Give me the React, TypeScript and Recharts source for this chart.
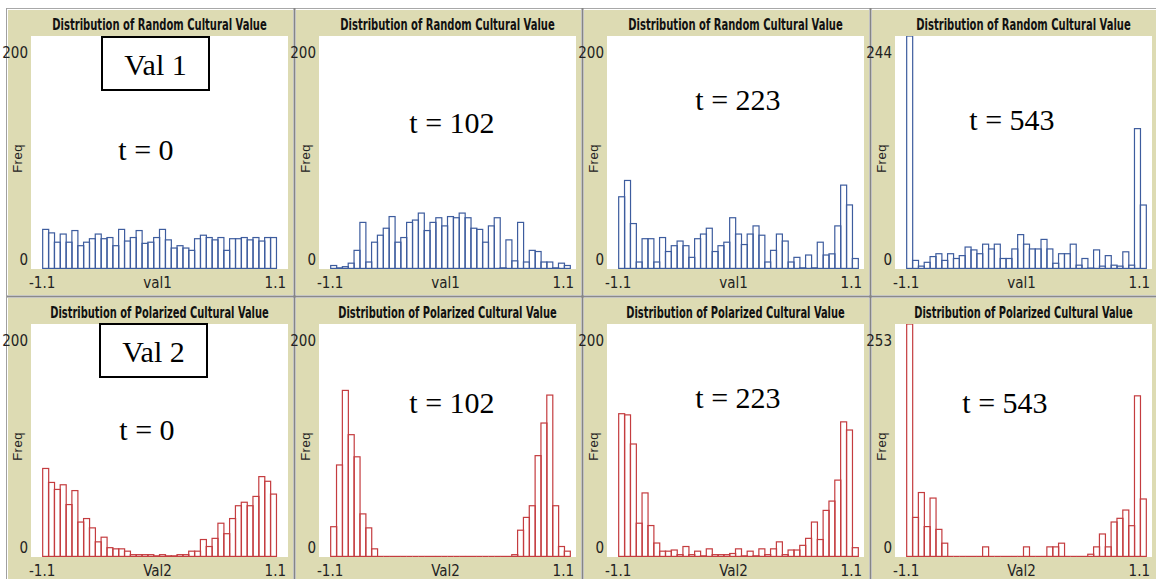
import { BarChart, Bar, XAxis, YAxis } from "recharts";

// bins of width 0.05 over the plot's x range -1.1 .. 1.1 (44 bins)
const BIN_STARTS = Array.from({ length: 44 }, (_, i) => Math.round((-1.1 + i * 0.05) * 100) / 100);
const FIRST_BIN = 2; // first count belongs to the bin starting at -1.0

// counts per bin, starting at -1.0
const val1T0 = [34, 31, 23, 30, 23, 33, 20, 23, 26, 30, 26, 27, 20, 34, 24, 27, 33, 22, 23, 27, 34, 25, 18, 20, 18, 16, 26, 29, 27, 25, 27, 16, 26, 26, 27, 25, 27, 24, 27, 27];
const val1T102 = [3, 1, 2, 5, 16, 40, 6, 23, 29, 35, 45, 23, 27, 40, 42, 48, 33, 40, 44, 37, 45, 44, 48, 44, 35, 34, 23, 37, 44, 1, 25, 7, 40, 6, 16, 15, 6, 6, 1, 5, 3];
const val1T223 = [62, 76, 39, 6, 26, 26, 6, 27, 15, 20, 24, 20, 10, 26, 30, 35, 15, 20, 23, 44, 30, 21, 30, 37, 29, 6, 16, 30, 24, 6, 10, 1, 12, 1, 23, 12, 13, 37, 72, 55, 9];
const val1T543 = [244, 9, 3, 7, 13, 16, 9, 16, 11, 14, 23, 20, 16, 26, 21, 26, 11, 11, 21, 36, 26, 21, 21, 31, 21, 6, 16, 16, 26, 4, 11, 1, 20, 3, 14, 4, 3, 18, 4, 147, 67];
const val2T0 = [76, 64, 58, 62, 45, 57, 30, 33, 25, 13, 17, 8, 7, 7, 5, 2, 2, 2, 2, 1, 2, 1, 1, 2, 2, 5, 5, 15, 9, 16, 29, 20, 33, 44, 47, 44, 52, 69, 65, 54];
const val2T102 = [26, 79, 143, 105, 86, 37, 25, 7, 0, 0, 0, 0, 0, 0, 0, 0, 0, 0, 0, 0, 0, 0, 0, 0, 0, 0, 0, 0, 0, 0, 0, 2, 23, 34, 44, 87, 115, 139, 44, 9, 5];
const val2T223 = [123, 122, 97, 29, 55, 27, 12, 5, 5, 6, 2, 9, 2, 5, 1, 7, 2, 2, 2, 3, 7, 1, 5, 1, 7, 2, 7, 13, 2, 6, 6, 10, 16, 30, 15, 40, 48, 66, 116, 109, 8];
const val2T543 = [253, 43, 70, 33, 64, 30, 15, 0, 0, 0, 0, 0, 0, 11, 0, 0, 0, 0, 0, 0, 11, 0, 0, 0, 11, 11, 15, 0, 0, 0, 0, 3, 11, 25, 11, 38, 42, 51, 34, 175, 63];

const TITLES = ["Distribution of Random Cultural Value", "Distribution of Polarized Cultural Value"];
const X_TITLES = ["val1", "Val2"];
const X_TICKS = ["-1.1", "1.1"];
const Y_MAX_TOP = [200, 200, 200, 244];
const Y_MAX_BOTTOM = [200, 200, 200, 253];
const TIMES = [0, 102, 223, 543];

const COL_LINES = [6, 294, 582, 870];
const ROW_LINES = [8, 296];
const PLOT_W = 257;
const PLOT_H = 233;
const BEIGE = "#dddbb3";
const BLUE = "#3d5c9e";
const RED = "#c43c3f";
const NARROW = "'Liberation Sans Narrow', 'DejaVu Sans Condensed', 'Arial Narrow', sans-serif";
const SERIF = "'Liberation Serif', 'Times New Roman', serif";
// horizontal squeeze so the bold titles keep tall glyphs at the original width
const TITLE_SCALE = [0.695, 0.687];

const HistBar = (props: any) => {
  const { x, y, width, height, payload, color } = props;
  if (!payload || payload.count == null) return <g />;
  const bottom = y + height - 0.6;
  if (!height) return <path d={`M${x},${bottom}H${x + width}`} stroke={color} strokeWidth={1.2} fill="none" />;
  return <rect x={x} y={y} width={width} height={bottom - y} fill="none" stroke={color} strokeWidth={1.2} />;
};

const Histogram = ({ col, row, series, yMax, color }: any) => {
  const data = BIN_STARTS.map((bin, i) => ({
    bin,
    count: i >= FIRST_BIN && i - FIRST_BIN < series.length ? series[i - FIRST_BIN] : null,
  }));
  return (
    <div style={{ position: "absolute", left: COL_LINES[col] + 25, top: ROW_LINES[row] + 28, width: PLOT_W, height: PLOT_H, background: "#fff" }}>
      <BarChart width={PLOT_W} height={PLOT_H} data={data} margin={{ top: 0, right: 0, bottom: 0, left: 0 }} barCategoryGap={0} barGap={0}>
        <XAxis dataKey="bin" hide />
        <YAxis hide domain={[0, yMax]} allowDataOverflow />
        <Bar dataKey="count" isAnimationActive={false} shape={(p: any) => <HistBar {...p} color={color} />} />
      </BarChart>
    </div>
  );
};

const panels = [
  { col: 0, row: 0, series: val1T0, yMax: Y_MAX_TOP[0], color: BLUE, t: TIMES[0], tx: 146, ty: 160 },
  { col: 1, row: 0, series: val1T102, yMax: Y_MAX_TOP[1], color: BLUE, t: TIMES[1], tx: 452, ty: 133 },
  { col: 2, row: 0, series: val1T223, yMax: Y_MAX_TOP[2], color: BLUE, t: TIMES[2], tx: 738, ty: 110 },
  { col: 3, row: 0, series: val1T543, yMax: Y_MAX_TOP[3], color: BLUE, t: TIMES[3], tx: 1012, ty: 130 },
  { col: 0, row: 1, series: val2T0, yMax: Y_MAX_BOTTOM[0], color: RED, t: TIMES[0], tx: 147, ty: 440 },
  { col: 1, row: 1, series: val2T102, yMax: Y_MAX_BOTTOM[1], color: RED, t: TIMES[1], tx: 452, ty: 413 },
  { col: 2, row: 1, series: val2T223, yMax: Y_MAX_BOTTOM[2], color: RED, t: TIMES[2], tx: 738, ty: 408 },
  { col: 3, row: 1, series: val2T543, yMax: Y_MAX_BOTTOM[3], color: RED, t: TIMES[3], tx: 1005, ty: 413 },
];

const boxes = [
  { label: "Val 1", x: 102, y: 37, w: 107, h: 53 },
  { label: "Val 2", x: 100, y: 324, w: 107, h: 53 },
];

export default function App() {
  return (
    <div style={{ position: "absolute", left: 0, top: 0, width: 1156, height: 579, background: "#fff", overflow: "hidden" }}>
      {panels.map((p, i) => {
        const left = COL_LINES[p.col] + 2;
        const right = (COL_LINES[p.col + 1] ?? 1158) - 1;
        const top = ROW_LINES[p.row] + 2;
        const bottom = (ROW_LINES[p.row + 1] ?? 581) - 1;
        return <div key={"bg" + i} style={{ position: "absolute", left, top, width: right - left, height: bottom - top, background: BEIGE }} />;
      })}
      {panels.map((p, i) => (
        <Histogram key={i} {...p} />
      ))}
      <svg width={1156} height={579} style={{ position: "absolute", left: 0, top: 0, pointerEvents: "none" }}>
        <line x1={6} y1={8.5} x2={1156} y2={8.5} stroke="#a8a8a8" strokeWidth={1} />
        <line x1={6} y1={296.5} x2={1156} y2={296.5} stroke="#8a8a8a" strokeWidth={2} />
        {COL_LINES.map((x, i) => (
          <line key={i} x1={x + 0.5} y1={8} x2={x + 0.5} y2={579} stroke={i === 0 ? "#a0a0a0" : "#858585"} strokeWidth={i === 0 ? 1 : 2} />
        ))}
        {panels.map((p, i) => {
          const pl = COL_LINES[p.col] + 25;
          const pt = ROW_LINES[p.row] + 28;
          const pb = pt + PLOT_H;
          const cx = pl + PLOT_W / 2;
          return (
            <g key={i}>
              <text transform={`translate(${cx},${pt - 6}) scale(${TITLE_SCALE[p.row]},1)`} textAnchor="middle" fontFamily={NARROW} fontWeight="bold" fontSize={16} fill="#111">
                {TITLES[p.row]}
              </text>
              <text x={pl - 3} y={pt + 22} textAnchor="end" fontFamily={NARROW} fontSize={15} fill="#222">{p.yMax}</text>
              <text x={pl - 3} y={pb - 4} textAnchor="end" fontFamily={NARROW} fontSize={15} fill="#222">0</text>
              <text transform={`translate(${pl - 9},${(pt + pb) / 2 + 6}) rotate(-90)`} textAnchor="middle" fontFamily="'Liberation Sans', Arial, sans-serif" fontSize={13} letterSpacing={0.5} fill="#222">Freq</text>
              <text x={pl - 2} y={pb + 19} textAnchor="start" fontFamily={NARROW} fontSize={15} fill="#222">{X_TICKS[0]}</text>
              <text x={cx - 2} y={pb + 19} textAnchor="middle" fontFamily={NARROW} fontSize={15} fill="#222">{X_TITLES[p.row]}</text>
              <text x={pl + PLOT_W - 2} y={pb + 19} textAnchor="end" fontFamily={NARROW} fontSize={15} fill="#222">{X_TICKS[1]}</text>
              <text x={p.tx} y={p.ty} textAnchor="middle" fontFamily={SERIF} fontSize={30} fill="#000">{`t = ${p.t}`}</text>
            </g>
          );
        })}
        {boxes.map((b, i) => (
          <g key={"box" + i}>
            <rect x={b.x} y={b.y} width={b.w} height={b.h} fill="#fff" stroke="#000" strokeWidth={2} />
            <text x={b.x + b.w / 2} y={b.y + 38} textAnchor="middle" fontFamily={SERIF} fontSize={30} fill="#000">{b.label}</text>
          </g>
        ))}
      </svg>
    </div>
  );
}
